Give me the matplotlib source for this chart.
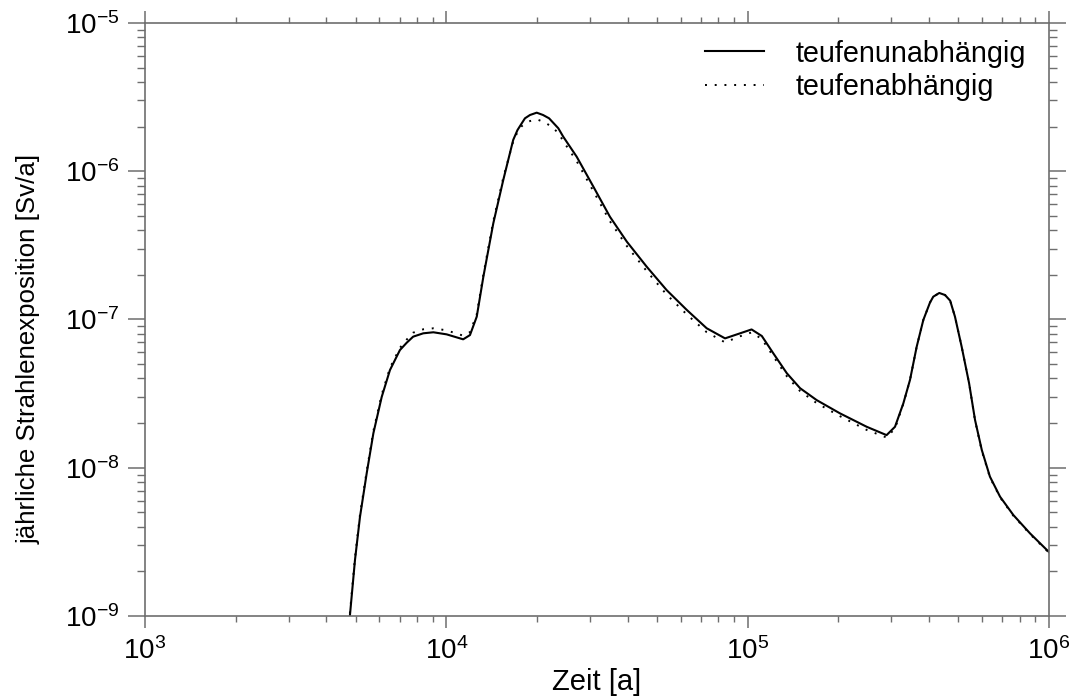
import numpy as np
import matplotlib
matplotlib.use("Agg")
import matplotlib.pyplot as plt
from matplotlib.ticker import LogLocator, NullFormatter

plt.rcParams['font.family'] = ['Liberation Sans', 'DejaVu Sans']
plt.rcParams['mathtext.fontset'] = 'custom'
plt.rcParams['mathtext.rm'] = 'Liberation Sans'
plt.rcParams['mathtext.it'] = 'Liberation Sans:italic'
plt.rcParams['mathtext.bf'] = 'Liberation Sans:bold'

# Zeit [a]
zeit = [4786, 4977, 5170, 5445, 5728, 6103, 6501, 7015, 7388, 7762,
        8387, 9057, 10023, 11376, 11982, 12618, 13274, 14322, 15453, 16672,
        17230, 17783, 18239, 18955, 19953, 20940, 21930, 23530, 24434, 27080,
        30761, 34914, 39719, 46238, 53827, 62806, 73114, 84140, 94406, 103039,
        111429, 121619, 134896, 149279, 169434, 202302, 248313, 289068, 308300, 328600,
        345700, 363900, 382800, 402700, 413000, 432500, 451900, 469894, 487500, 513000,
        543000, 568300, 598400, 636800, 688000, 761500, 865000, 1000000]

# jaehrliche Strahlenexposition [Sv/a]
teufenunabh = [1.0e-9, 2.39e-9, 4.66e-9, 9.23e-9, 1.71e-8, 3.00e-8, 4.56e-8, 6.22e-8, 6.97e-8, 7.66e-8,
               8.07e-8, 8.20e-8, 7.94e-8, 7.35e-8, 7.85e-8, 1.045e-7, 1.945e-7, 4.46e-7, 8.73e-7, 1.626e-6,
               1.897e-6, 2.10e-6, 2.275e-6, 2.395e-6, 2.483e-6, 2.395e-6, 2.275e-6, 1.95e-6, 1.710e-6, 1.253e-6,
               7.87e-7, 4.93e-7, 3.35e-7, 2.27e-7, 1.58e-7, 1.16e-7, 8.73e-8, 7.46e-8, 8.07e-8, 8.57e-8,
               7.74e-8, 5.92e-8, 4.34e-8, 3.44e-8, 2.86e-8, 2.33e-8, 1.89e-8, 1.66e-8, 1.89e-8, 2.72e-8,
               3.91e-8, 6.56e-8, 9.93e-8, 1.30e-7, 1.425e-7, 1.51e-7, 1.462e-7, 1.34e-7, 1.045e-7, 6.56e-8,
               3.72e-8, 2.10e-8, 1.318e-8, 8.71e-9, 6.38e-9, 4.80e-9, 3.61e-9, 2.70e-9]

teufenabh = [1.04e-9, 2.47e-9, 4.82e-9, 9.55e-9, 1.77e-8, 3.11e-8, 4.72e-8, 6.44e-8, 7.32e-8, 8.15e-8,
             8.59e-8, 8.72e-8, 8.45e-8, 7.78e-8, 8.22e-8, 1.082e-7, 2.01e-7, 4.62e-7, 9.04e-7, 1.589e-6,
             1.84e-6, 2.01e-6, 2.10e-6, 2.18e-6, 2.24e-6, 2.16e-6, 2.05e-6, 1.82e-6, 1.595e-6, 1.169e-6,
             7.34e-7, 4.60e-7, 3.13e-7, 2.12e-7, 1.474e-7, 1.082e-7, 8.21e-8, 7.01e-8, 7.71e-8, 8.18e-8,
             7.39e-8, 5.65e-8, 4.14e-8, 3.29e-8, 2.73e-8, 2.23e-8, 1.80e-8, 1.60e-8, 1.84e-8, 2.70e-8,
             3.91e-8, 6.56e-8, 9.93e-8, 1.30e-7, 1.425e-7, 1.51e-7, 1.462e-7, 1.34e-7, 1.045e-7, 6.56e-8,
             3.72e-8, 2.08e-8, 1.30e-8, 8.61e-9, 6.31e-9, 4.75e-9, 3.57e-9, 2.67e-9]

axcol = '#6e6e6e'

fig = plt.figure(figsize=(10.77, 6.96), dpi=100)
ax = fig.add_axes([0.1346, 0.1149, 0.974 - 0.1346, 0.967 - 0.1149])

ax.plot(zeit, teufenunabh, color='black', lw=1.5, label='teufenunabhängig')
ax.plot(zeit, teufenabh, color='black', lw=1.4, linestyle=(0, (1, 4)), label='teufenabhängig')

ax.set_xscale('log')
ax.set_yscale('log')
ax.set_xlim(1e3, 1e6)
ax.set_ylim(1e-9, 1e-5)

for s in ax.spines.values():
    s.set_color(axcol)
    s.set_linewidth(1.2)

ax.xaxis.set_minor_locator(LogLocator(base=10, subs=np.arange(2, 10)))
ax.yaxis.set_minor_locator(LogLocator(base=10, subs=np.arange(2, 10)))
ax.xaxis.set_minor_formatter(NullFormatter())
ax.yaxis.set_minor_formatter(NullFormatter())
ax.xaxis.get_offset_text().set_visible(False)
ax.yaxis.get_offset_text().set_visible(False)

ax.tick_params(axis='x', which='major', direction='out', length=8.6, width=1.1,
               color=axcol, top=True, bottom=True, labelsize=20, pad=6.5)
ax.tick_params(axis='x', which='minor', direction='out', length=4.3, width=1.0,
               color=axcol, top=True, bottom=True)
ax.tick_params(axis='y', which='major', direction='out', length=12.2, width=1.1,
               color=axcol, left=True, right=True, labelsize=20, pad=6)
ax.tick_params(axis='y', which='minor', direction='out', length=6.0, width=1.0,
               color=axcol, left=True, right=True)

ax.set_xlabel('Zeit [a]', fontsize=21, labelpad=2)
ax.set_ylabel('jährliche Strahlenexposition [Sv/a]', fontsize=18.6)
ax.yaxis.set_label_coords(-0.115, 0.45)

ax.legend(loc='upper right', bbox_to_anchor=(0.997, 1.006), frameon=False, fontsize=20.7,
          handlelength=2.05, handletextpad=1.11, labelspacing=0.2, borderpad=0.2)

fig.savefig('out.png', dpi=100)
